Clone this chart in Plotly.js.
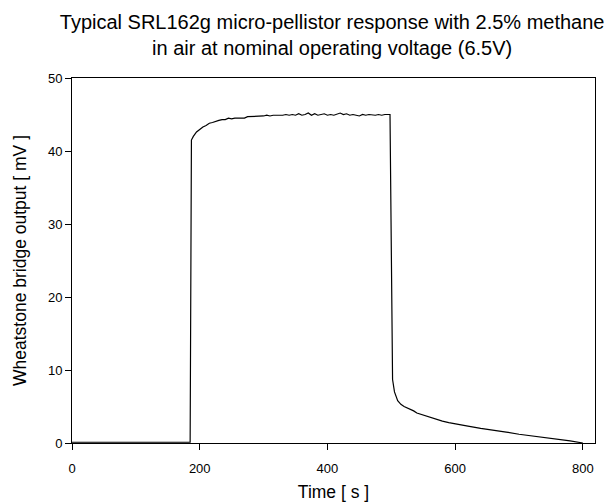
<!DOCTYPE html>
<html>
<head>
<meta charset="utf-8">
<script src="https://cdn.plot.ly/plotly-3.0.1.min.js"></script>
<style>html,body{margin:0;padding:0;background:#fff;}#chart{width:605px;height:504px;}</style>
</head>
<body>
<div id="chart"></div>
<script>
var timeS = [0, 40, 80, 120, 160, 185, 187, 190, 195, 200, 205, 210, 215, 220, 225, 230, 235, 240, 245, 250, 255, 260, 265, 270, 275, 280, 285, 290, 295, 300, 305, 310, 315, 320, 325, 330, 335, 340, 345, 350, 355, 360, 365, 370, 375, 380, 385, 390, 395, 400, 405, 410, 415, 420, 425, 430, 435, 440, 445, 450, 455, 460, 465, 470, 475, 480, 485, 490, 495, 498, 502, 505, 510, 515, 520, 525, 530, 535, 540, 550, 560, 570, 580, 590, 600, 620, 640, 660, 680, 700, 720, 740, 760, 780, 800];
var outputMV = [0.1, 0.1, 0.1, 0.1, 0.1, 0.1, 41.5, 42.0, 42.6, 43.0, 43.3, 43.5, 43.8, 43.9, 44.1, 44.2, 44.3, 44.3, 44.5, 44.4, 44.5, 44.5, 44.6, 44.5, 44.7, 44.7, 44.8, 44.7, 44.8, 44.8, 44.9, 44.8, 44.9, 44.9, 44.8, 44.9, 45.0, 44.9, 45.0, 44.9, 45.1, 44.9, 45.0, 45.2, 44.9, 45.1, 44.9, 45.0, 45.1, 44.9, 45.0, 44.9, 45.1, 45.2, 45.0, 45.1, 44.9, 45.0, 44.9, 44.8, 45.0, 44.9, 45.0, 44.9, 44.9, 45.0, 44.9, 45.0, 45.0, 45.0, 8.7, 7.0, 5.8, 5.3, 5.0, 4.8, 4.7, 4.4, 4.1, 3.8, 3.5, 3.3, 3.0, 2.8, 2.6, 2.3, 2.0, 1.8, 1.5, 1.2, 1.0, 0.8, 0.6, 0.3, 0.0];
var xTicks = [0, 200, 400, 600, 800];
var yTicks = [0, 10, 20, 30, 40, 50];

var axisCommon = {
  showline: true, linecolor: '#000', linewidth: 1, mirror: true,
  ticks: 'outside', ticklen: 6, tickcolor: '#000', tickwidth: 1,
  showgrid: false, zeroline: false,
  tickfont: {family: 'Liberation Sans, Arial, sans-serif', size: 13, color: '#000'}
};

var layout = {
  width: 605, height: 504,
  margin: {l: 72, r: 10, t: 78, b: 61},
  paper_bgcolor: '#fff', plot_bgcolor: '#fff',
  showlegend: false,
  title: {
    text: 'Typical SRL162g micro-pellistor response with 2.5% methane<br>in air at nominal operating voltage (6.5V)',
    font: {family: 'Liberation Sans, Arial, sans-serif', size: 20, color: '#000'},
    x: 0.549, xanchor: 'center', y: 0.942, yanchor: 'top'
  },
  xaxis: Object.assign({}, axisCommon, {
    range: [0, 819], tickvals: xTicks, ticktext: xTicks.map(String),
    ticklabelstandoff: 7,
    title: {text: 'Time [ s ]', font: {family: 'Liberation Sans, Arial, sans-serif', size: 17.5, color: '#000'}, standoff: 11}
  }),
  yaxis: Object.assign({}, axisCommon, {
    range: [0, 50], tickvals: yTicks, ticktext: yTicks.map(String),
    title: {text: 'Wheatstone bridge output [ mV ]', font: {family: 'Liberation Sans, Arial, sans-serif', size: 17.5, color: '#000'}, standoff: 16}
  })
};

var trace = {
  x: timeS, y: outputMV, type: 'scatter', mode: 'lines',
  line: {color: '#000', width: 1.2}, cliponaxis: false
};

Plotly.newPlot('chart', [trace], layout, {displayModeBar: false, staticPlot: true});
</script>
</body>
</html>
